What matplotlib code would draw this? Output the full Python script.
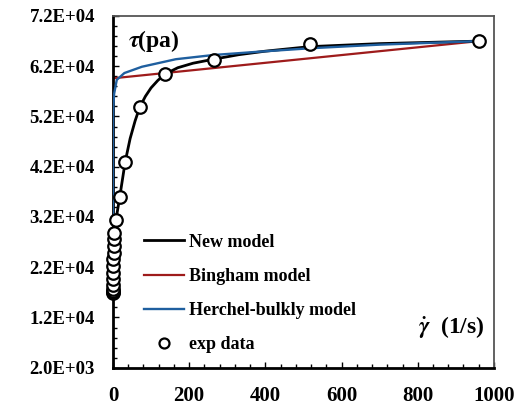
import matplotlib
matplotlib.use("Agg")
import matplotlib.pyplot as plt
from matplotlib.ticker import MultipleLocator, FuncFormatter

plt.rcParams['font.family'] = ['Liberation Serif', 'DejaVu Serif']
plt.rcParams['font.weight'] = 'bold'
plt.rcParams['mathtext.fontset'] = 'stix'

# experimental points (shear rate 1/s, shear stress Pa)
gamma_exp = [0.1, 0.2, 0.3, 0.4, 0.5, 0.6, 0.8, 1.0, 1.2, 1.5, 1.8, 2.2, 2.6,
             8, 17.6, 32, 70, 137, 264, 516, 960]
tau_exp = [16800, 17000, 17200, 17700, 18400, 19600, 20900, 22300, 23600, 24900,
           26300, 27600, 28900, 31500, 35900, 42950, 53800, 60450, 63250, 66400, 67000]

# new model curve
gamma_new = [0.1, 1.0, 2.6, 8, 17.6, 32, 45, 58, 70, 85, 100, 118, 137, 170, 210, 264,
             330, 400, 516, 700, 960]
tau_new = [16500, 22300, 28900, 31500, 35900, 42950, 47600, 51100, 53800, 56000,
           57700, 59200, 60450, 61700, 62600, 63400, 64300, 65000, 65900, 66500, 67000]

# Bingham model (straight line)
gamma_bing = [0, 960]
tau_bing = [59600, 67000]

# Herschel-Bulkley model
gamma_hb = [0.0, 0.0001, 0.01, 0.2, 1, 3, 10, 30, 76, 165, 264, 384, 516, 700, 960]
tau_hb = [30000, 40000, 46000, 51500, 54000, 56500, 59300, 60650, 61900, 63400,
          64240, 64900, 65570, 66300, 67000]

fig = plt.figure(figsize=(5.23, 4.05), dpi=100)
ax = fig.add_axes([0.216, 0.092, 0.7285, 0.8685])

ax.plot(gamma_new, tau_new, color='black', lw=2.0, label='New model', zorder=3)
ax.plot(gamma_bing, tau_bing, color='#9e1b1b', lw=1.6, label='Bingham model', zorder=2)
ax.plot(gamma_hb, tau_hb, color='#1f5f9f', lw=1.7, label='Herchel-bulkly model', zorder=3)
ax.plot(gamma_exp, tau_exp, linestyle='none', marker='o', ms=9, mfc='white',
        mec='black', mew=1.6, label='exp data', zorder=4, clip_on=False)

ax.set_xlim(0, 1000)
ax.set_ylim(2000, 72000)
ax.xaxis.set_major_locator(MultipleLocator(200))
ax.xaxis.set_minor_locator(MultipleLocator(40))
ax.set_yticks(range(2000, 72001, 10000))
ax.yaxis.set_minor_locator(MultipleLocator(2000))


def sci_fmt(v, pos):
    s = '%.1E' % v
    mant, ex = s.split('E')
    return '%sE%s%02d' % (mant, ex[0], abs(int(ex)))


ax.yaxis.set_major_formatter(FuncFormatter(sci_fmt))
ax.tick_params(which='both', direction='in', width=1.0, pad=13)
ax.tick_params(axis='x', labelsize=15)
ax.tick_params(axis='y', labelsize=13.5)
ax.tick_params(which='major', length=4)
ax.tick_params(which='minor', length=3)
for lab in ax.get_xticklabels() + ax.get_yticklabels():
    lab.set_fontweight('bold')

ax.spines['left'].set_linewidth(2.0)
ax.spines['bottom'].set_linewidth(2.0)
for side in ['top', 'right']:
    ax.spines[side].set_linewidth(1.3)
    ax.spines[side].set_color('#555555')

ax.text(0.04, 0.965, r'$\tau$(pa)', transform=ax.transAxes, fontsize=17,
        fontweight='bold', va='top', ha='left')
ax.text(0.975, 0.115, r'$\dot{\gamma}$  (1/s)', transform=ax.transAxes, fontsize=17,
        fontweight='bold', va='center', ha='right')

leg = ax.legend(loc='lower left', bbox_to_anchor=(0.04, -0.005), frameon=False,
                prop={'family': 'Liberation Serif', 'weight': 'bold', 'size': 13},
                handlelength=2.2, labelspacing=0.95, handletextpad=0.25,
                markerscale=0.8)

fig.savefig('out.png', dpi=100)
